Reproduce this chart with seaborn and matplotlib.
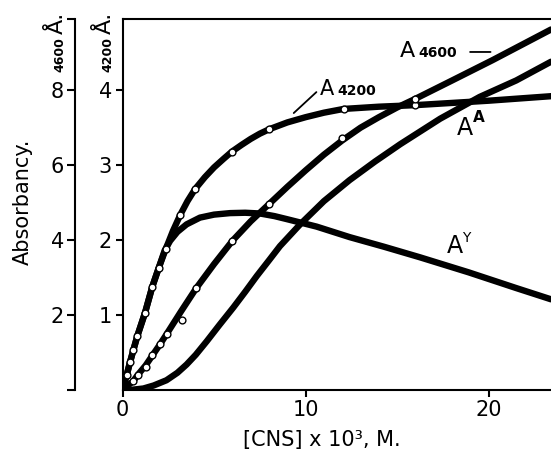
import matplotlib
matplotlib.use("Agg")
import matplotlib.pyplot as plt
import seaborn as sns

# ---- data (absorbancy on the 4200 Å scale; 4600 Å scale is twice that) ----
# A4200 smooth curve
a4200_x = [0, 0.23, 0.41, 0.59, 0.81, 1.23, 1.63, 1.98, 2.36, 2.75, 3.16, 3.55, 3.96, 4.5, 5.0, 5.5, 5.97, 6.5, 7.0, 7.5, 8.02, 9.0, 10.0, 11.0, 12.07, 14.0, 15.95, 20.0, 23.4]
a4200_y = [0, 0.20, 0.37, 0.53, 0.72, 1.03, 1.38, 1.63, 1.88, 2.12, 2.34, 2.52, 2.68, 2.84, 2.97, 3.08, 3.18, 3.27, 3.35, 3.42, 3.48, 3.57, 3.64, 3.70, 3.75, 3.78, 3.80, 3.86, 3.92]
# A4200 measured points
a4200_px = [0.23, 0.41, 0.59, 0.81, 1.23, 1.63, 1.98, 2.36, 3.16, 3.96, 5.97, 8.02, 12.07, 15.95]
a4200_py = [0.20, 0.37, 0.53, 0.72, 1.03, 1.38, 1.63, 1.88, 2.34, 2.68, 3.18, 3.48, 3.75, 3.80]

# A4600 smooth curve
a4600_x = [0, 0.59, 0.83, 1.27, 1.63, 2.05, 2.42, 3.2, 4.03, 5.0, 6.0, 7.0, 8.0, 9.0, 10.0, 11.0, 12.0, 13.0, 14.0, 15.0, 15.95, 18.0, 20.2, 23.4]
a4600_y = [0, 0.12, 0.20, 0.33, 0.46, 0.61, 0.75, 1.05, 1.36, 1.68, 1.99, 2.25, 2.48, 2.71, 2.93, 3.14, 3.33, 3.50, 3.64, 3.77, 3.88, 4.13, 4.40, 4.81]
# A4600 measured points
a4600_px = [0.59, 0.83, 1.27, 1.63, 2.05, 2.42, 3.23, 4.03, 6.0, 8.0, 12.01, 15.95]
a4600_py = [0.12, 0.20, 0.31, 0.47, 0.61, 0.75, 0.94, 1.36, 1.99, 2.48, 3.36, 3.88]

# A^A (calculated)
aa_x = [0, 0.5, 1.14, 1.7, 2.4, 3.0, 3.5, 4.0, 4.6, 5.3, 6.05, 6.7, 7.33, 8.0, 8.6, 9.7, 11.0, 12.4, 13.8, 15.17, 17.35, 19.5, 21.5, 23.4]
aa_y = [0, 0.003, 0.02, 0.06, 0.13, 0.23, 0.34, 0.47, 0.65, 0.87, 1.10, 1.31, 1.52, 1.73, 1.92, 2.21, 2.52, 2.80, 3.05, 3.28, 3.62, 3.91, 4.13, 4.38]

# A^Y (calculated)
ay_x = [0, 0.23, 0.41, 0.59, 0.81, 1.23, 1.63, 1.98, 2.3, 2.6, 3.0, 3.5, 4.23, 5.0, 5.87, 6.7, 7.51, 8.3, 8.97, 10.6, 12.4, 14.3, 16.25, 18.9, 21.5, 23.4]
ay_y = [0, 0.20, 0.37, 0.53, 0.72, 1.03, 1.38, 1.63, 1.86, 1.99, 2.11, 2.21, 2.30, 2.34, 2.36, 2.365, 2.355, 2.32, 2.28, 2.18, 2.04, 1.91, 1.77, 1.57, 1.36, 1.21]

x_ticks = [0, 10, 20]
y_ticks_4200 = [1, 2, 3, 4]
y_ticks_4600 = [2, 4, 6, 8]

# ---- style ----
sns.set_theme(style="ticks", rc={"text.color": "black", "axes.labelcolor": "black",
                                 "xtick.color": "black", "ytick.color": "black",
                                 "axes.edgecolor": "black"})
plt.rcParams["font.family"] = ["DejaVu Sans"]

W, H = 551, 457
fig = plt.figure(figsize=(W / 100, H / 100), dpi=100)
L, B, R, T = 122.5, 390, 551, 19
ax = fig.add_axes([L / W, 1 - B / H, (R - L) / W, (B - T) / H])
ax.set_xlim(0, 23.4)
ax.set_ylim(0, 4.95)

lw = 4.6
for xs, ys in [(a4200_x, a4200_y), (a4600_x, a4600_y), (aa_x, aa_y), (ay_x, ay_y)]:
    sns.lineplot(x=xs, y=ys, ax=ax, color="black", linewidth=lw, sort=False,
                 estimator=None, solid_capstyle="round", solid_joinstyle="round")
for xs, ys in [(a4200_px, a4200_py), (a4600_px, a4600_py)]:
    sns.scatterplot(x=xs, y=ys, ax=ax, color="white", edgecolor="black",
                    linewidth=1.0, s=24, zorder=5)

for s in ["left", "bottom", "top"]:
    ax.spines[s].set_linewidth(1.5)
ax.spines["right"].set_visible(False)
ax.set_xticks(x_ticks)
ax.set_xticklabels([str(v) for v in x_ticks])
ax.set_yticks(y_ticks_4200)
ax.set_yticklabels([str(v) for v in y_ticks_4200])
ax.tick_params(axis="both", direction="out", length=5, width=1.5, labelsize=15,
               pad=2.5, bottom=True, left=True, top=False, right=False)
ax.set_xlabel("")
ax.set_ylabel("")

# outer 4600 Å axis
ax2 = fig.add_axes([75 / W, 1 - B / H, 0.0005, (B - T) / H])
ax2.set_facecolor("none")
ax2.set_ylim(0, 9.9)
for s in ["right", "bottom", "top"]:
    ax2.spines[s].set_visible(False)
ax2.spines["left"].set_linewidth(1.5)
ax2.set_xticks([])
ax2.set_yticks([0] + y_ticks_4600 + [9.9])
ax2.set_yticklabels([""] + [str(v) for v in y_ticks_4600] + [""])
ax2.tick_params(axis="y", direction="out", length=5.5, width=1.5, labelsize=15,
                pad=2.5, left=True)

# axis headers
def ftxt(px, py, s, **kw):
    fig.text(px / W, 1 - py / H, s, **kw)

ftxt(63, 72, "4600", rotation=90, rotation_mode="anchor", ha="left", va="baseline",
     fontsize=9, fontweight="bold")
ftxt(63, 12, "Å.", rotation=90, rotation_mode="anchor", ha="right", va="baseline",
     fontsize=16)
ftxt(111, 72, "4200", rotation=90, rotation_mode="anchor", ha="left", va="baseline",
     fontsize=9, fontweight="bold")
ftxt(111, 12, "Å.", rotation=90, rotation_mode="anchor", ha="right", va="baseline",
     fontsize=16)

ftxt(23, 202, "Absorbancy.", rotation=90, ha="center", va="center", fontsize=15)
ftxt(322, 440, "[CNS] x 10³, M.", ha="center", va="center", fontsize=15)

# curve labels
ax.text(10.79, 3.93, "A", fontsize=15, ha="left", va="baseline")
ax.text(11.72, 3.93, "4200", fontsize=10, fontweight="bold", ha="left", va="baseline")
ax.annotate("", xy=(9.24, 3.67), xytext=(10.7, 4.0),
            arrowprops=dict(arrowstyle="-", lw=1.3, color="black"))

ax.text(15.16, 4.44, "A", fontsize=16, ha="left", va="baseline")
ax.text(16.15, 4.44, "4600", fontsize=10, fontweight="bold", ha="left", va="baseline")
ax.annotate("", xy=(20.25, 4.51), xytext=(18.83, 4.51),
            arrowprops=dict(arrowstyle="-", lw=1.3, color="black"))

ax.text(18.28, 3.40, "A", fontsize=17, ha="left", va="baseline")
ax.text(19.15, 3.57, "A", fontsize=11, fontweight="bold", ha="left", va="baseline")

ax.text(17.73, 1.83, "A", fontsize=17, ha="left", va="baseline")
ax.text(18.55, 1.97, "Y", fontsize=10, ha="left", va="baseline")

fig.savefig("out.png", dpi=100)
